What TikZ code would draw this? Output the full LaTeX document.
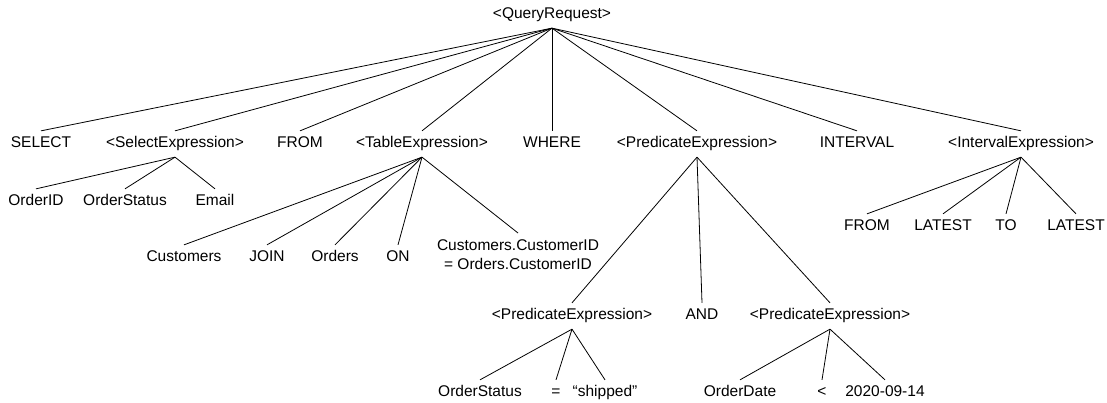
\documentclass[tikz,border=0pt]{standalone}
\usepackage{fontspec}
\setmainfont{Liberation Sans}
\begin{document}
\begin{tikzpicture}[x=1pt,y=-1pt,line width=0.8pt]
\tikzstyle{every node}=[font=\fontsize{15.5}{19}\selectfont,inner xsep=0pt,inner ysep=5.5pt,text height=11pt,text depth=3.5pt]
\useasboundingbox (0,0) rectangle (1107,403);
% root
\node(l0) at (552,15) {<QueryRequest>};
% first level
\node(l10) at (41,144) {SELECT};
\node(l11) at (175,144) {<SelectExpression>};
\node(l12) at (300,144) {FROM};
\node(l13) at (422,144) {<TableExpression>};
\node(l14) at (552,144) {WHERE};
\node(l15) at (697,144) {<PredicateExpression>};
\node(l16) at (857,144) {INTERVAL};
\node(l17) at (1021,144) {<IntervalExpression>};
% select list
\node(l20) at (36,202) {OrderID};
\node(l21) at (125,202) {OrderStatus};
\node(l22) at (215,202) {Email};
% table expression
\node(l23) at (184,258) {Customers};
\node(l24) at (267,258) {JOIN};
\node(l25) at (335,258) {Orders};
\node(l26) at (398,258) {ON};
\node[text height={},text depth={},align=center,inner ysep=6pt,anchor=north](l27) at (518,233) {Customers.CustomerID\\= Orders.CustomerID};
% interval
\node(l28) at (867,227) {FROM};
\node(l29) at (943,227) {LATEST};
\node(l2a) at (1006,227) {TO};
\node(l2b) at (1076,227) {LATEST};
% predicate
\node(l30) at (572,316) {<PredicateExpression>};
\node(l31) at (702,316) {AND};
\node(l32) at (830,316) {<PredicateExpression>};
\node(l40) at (480,393) {OrderStatus};
\node(l41) at (556,393) {=};
\node(l42) at (605,393) {“shipped”};
\node(l43) at (740,393) {OrderDate};
\node(l44) at (822,393) {<};
\node(l45) at (885,393) {2020-09-14};
% edges
\draw (l0.south) -- (l10.north);
\draw (l0.south) -- (l11.north);
\draw (l0.south) -- (l12.north);
\draw (l0.south) -- (l13.north);
\draw (l0.south) -- (l14.north);
\draw (l0.south) -- (l15.north);
\draw (l0.south) -- (l16.north);
\draw (l0.south) -- (l17.north);
\draw (l11.south) -- (l20.north);
\draw (l11.south) -- (l21.north);
\draw (l11.south) -- (l22.north);
\draw (l13.south) -- (l23.north);
\draw (l13.south) -- (l24.north);
\draw (l13.south) -- (l25.north);
\draw (l13.south) -- (l26.north);
\draw (l13.south) -- (l27.north);
\draw (l17.south) -- (l28.north);
\draw (l17.south) -- (l29.north);
\draw (l17.south) -- (l2a.north);
\draw (l17.south) -- (l2b.north);
\draw (l15.south) -- (l30.north);
\draw (l15.south) -- (l31.north);
\draw (l15.south) -- (l32.north);
\draw (l30.south) -- (l40.north);
\draw (l30.south) -- (l41.north);
\draw (l30.south) -- (l42.north);
\draw (l32.south) -- (l43.north);
\draw (l32.south) -- (l44.north);
\draw (l32.south) -- (l45.north);
\end{tikzpicture}
\end{document}
